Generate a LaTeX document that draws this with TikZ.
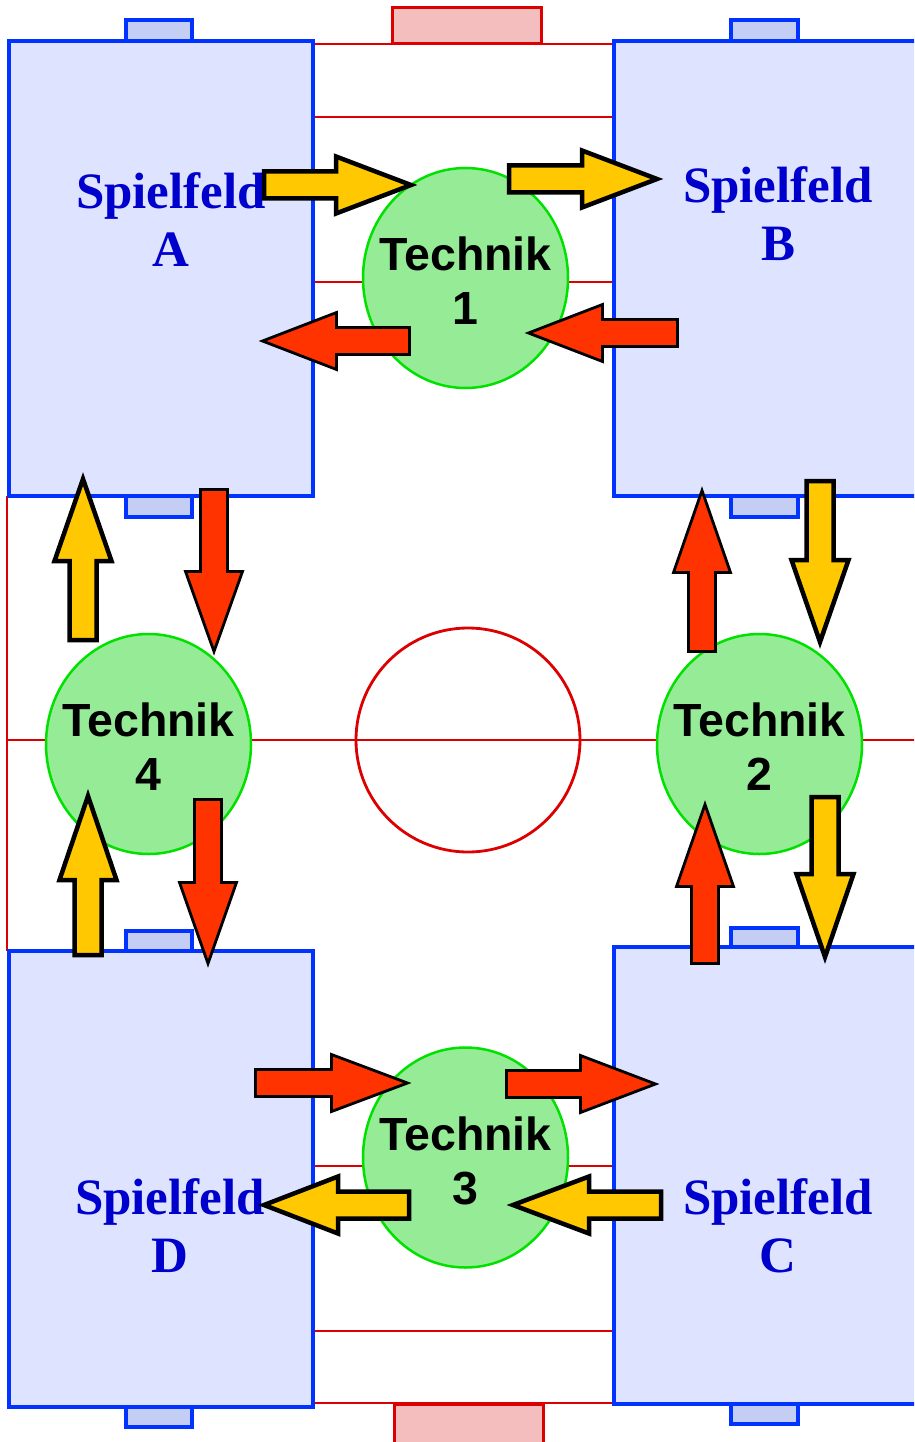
\documentclass[tikz,border=0pt]{standalone}
\usepackage{fontspec}
\usepackage{tikz}
\usetikzlibrary{shapes.geometric}
\newfontfamily\arialfont{Liberation Sans}
\newfontfamily\timesfont{Liberation Serif}
\definecolor{feldblau}{RGB}{0,51,255}
\definecolor{feldfill}{RGB}{222,228,255}
\definecolor{torfill}{RGB}{196,206,245}
\definecolor{linienrot}{RGB}{220,0,0}
\definecolor{torrot}{RGB}{245,190,190}
\definecolor{technikgruen}{RGB}{0,225,0}
\definecolor{technikfill}{RGB}{150,235,150}
\definecolor{pfeilgelb}{RGB}{255,200,0}
\definecolor{pfeilrot}{RGB}{255,51,0}
\definecolor{schriftblau}{RGB}{0,0,204}

% Blockpfeil: Stil, Anfang x, Anfang y, Winkel, Laenge, Spitzenlaenge
\newcommand{\pfeil}[6]{%
	\draw[#1, shift={(#2,#3)}, rotate=#4] (0,-13.5) -- ({#5-#6},-13.5) -- ({#5-#6},-28.5) -- (#5,0)
		-- ({#5-#6},28.5) -- ({#5-#6},13.5) -- (0,13.5) -- cycle;}

\begin{document}
\begin{tikzpicture}[x=1pt,y=-1pt,
							feld/.style={draw=feldblau, line width=4.5pt, fill=feldfill},
							tab/.style={draw=feldblau, line width=4pt, fill=torfill},
							linie/.style={draw=linienrot, line width=2.8pt},
							tor/.style={draw=linienrot, line width=3pt, fill=torrot},
							technik/.style={ellipse, draw=technikgruen, line width=2.5pt, fill=technikfill,
								minimum width=205pt, minimum height=220pt, inner sep=0pt},
							technikname/.style={align=center, font=\arialfont\bfseries\fontsize{46.5}{54}\selectfont},
							feldname/.style={text=schriftblau, align=center, font=\timesfont\bfseries\fontsize{51}{58}\selectfont},
							gelb/.style={draw=black, line width=4.5pt, fill=pfeilgelb},
							rot/.style={draw=black, line width=2.8pt, fill=pfeilrot}]
	\useasboundingbox (0,0) rectangle (914,1442);
	\clip (0,0) rectangle (914,1442);
	% Spielfeldlinien
	\draw[tor] (392,8) rectangle (541,44);
	\draw[tor] (394,1404) rectangle (543,1450);
	\foreach \y in {44,117,282,1166,1331,1403}
		\draw[linie] (313,\y) -- (614,\y);
	\draw[linie] (7,740) -- (920,740);
	\draw[linie] (7,496) -- (7,951);
	\draw[linie] (468,740) circle (112);
	% Tore der Spielfelder
	\draw[tab] (126,20) rectangle (192,41);
	\draw[tab] (126,496) rectangle (192,517);
	\draw[tab] (731,20) rectangle (798,41);
	\draw[tab] (731,496) rectangle (798,517);
	\draw[tab] (126,931) rectangle (192,951);
	\draw[tab] (126,1407) rectangle (192,1427);
	\draw[tab] (731,928) rectangle (798,947);
	\draw[tab] (731,1404) rectangle (798,1424);
	% Spielfelder
	\draw[feld] (9,41) rectangle (313,496);
	\draw[feld] (614,41) rectangle (940,496);
	\draw[feld] (9,951) rectangle (313,1407);
	\draw[feld] (614,947) rectangle (940,1404);
	\node[feldname] (nameA) at (171,220) {Spielfeld\\A};
	\node[feldname] (nameB) at (778,214) {Spielfeld\\B};
	\node[feldname] (nameC) at (778,1226) {Spielfeld\\C};
	\node[feldname] (nameD) at (170,1226) {Spielfeld\\D};
	% Technik
	\node[technik] (t1) at (465.5,278) {};
	\node[technik] (t2) at (759.5,744) {};
	\node[technik] (t3) at (465.5,1157.5) {};
	\node[technik] (t4) at (148.5,744) {};
	\foreach \n in {1,2,3,4}
		\node[technikname] (t\n name) at ([yshift=-3pt]t\n) {Technik\\\n};
	% Pfeile
	\pfeil{gelb}{264}{185}{0}{147}{75}
	\pfeil{gelb}{509}{179}{0}{148}{75}
	\pfeil{rot}{409.5}{341}{180}{147}{74}
	\pfeil{rot}{677.5}{333}{180}{149}{74}
	\pfeil{gelb}{83}{640}{90}{161}{82}
	\pfeil{rot}{214}{489.5}{-90}{162}{80}
	\pfeil{rot}{702}{651.5}{90}{161}{82}
	\pfeil{gelb}{820}{481}{-90}{161}{82}
	\pfeil{gelb}{88}{955}{90}{159}{84}
	\pfeil{rot}{208}{799.5}{-90}{164}{81}
	\pfeil{rot}{705}{963.5}{90}{159}{82}
	\pfeil{gelb}{825}{797}{-90}{160}{83}
	\pfeil{rot}{255.5}{1083}{0}{152}{76}
	\pfeil{rot}{506.5}{1084}{0}{149}{75}
	\pfeil{gelb}{409}{1205}{180}{145}{74}
	\pfeil{gelb}{661}{1205}{180}{148}{76}
\end{tikzpicture}
\end{document}
